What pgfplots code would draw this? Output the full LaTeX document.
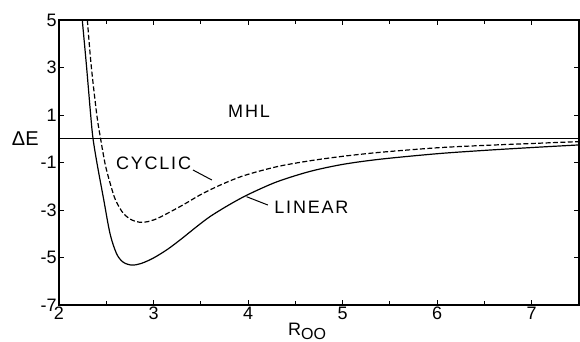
\documentclass[border=0pt]{standalone}
\usepackage{fontspec}
\setmainfont{Liberation Sans}
\newfontfamily\lbl[LetterSpace=10]{Liberation Sans}
\usepackage{pgfplots}
\pgfplotsset{compat=1.18}
\begin{document}
\begin{tikzpicture}
\begin{axis}[
  width=260pt, height=142.5pt, scale only axis,
  xmin=2, xmax=7.5, ymin=-7, ymax=5,
  xtick={2,3,4,5,6,7},
  minor xtick={2.5,3.5,4.5,5.5,6.5},
  ytick={-7,-5,-3,-1,1,3,5},
  tick align=inside,
  major tick length=2.5pt, minor tick length=1.8pt,
  axis line style={line width=0.6pt},
  every tick/.style={black, line width=0.5pt},
  /pgf/number format/assume math mode=true,
  tick label style={font=\fontsize{9}{10}\selectfont},
  xticklabel style={inner sep=1pt},
  yticklabel style={inner sep=1pt},
  clip=true,
]
\coordinate (sw) at (rel axis cs:0,0);
\coordinate (ne) at (rel axis cs:1,1);
\coordinate (dE) at (axis cs:2,0);
\coordinate (Rl) at (axis cs:4.42,-7);
% MHL reference line
\addplot[black, line width=0.6pt] coordinates {(2,0) (7.5,0)};
% LINEAR (solid)
\addplot[black, line width=0.6pt, smooth] coordinates {
 (2.246,5) (2.29,3.1) (2.335,1.0) (2.36,0) (2.405,-1.1) (2.47,-2.5)
 (2.54,-4.0) (2.61,-4.85) (2.68,-5.2) (2.77,-5.32) (2.87,-5.25)
 (3.0,-5.02) (3.15,-4.65) (3.3,-4.2) (3.45,-3.72) (3.6,-3.27)
 (3.8,-2.78) (4.0,-2.35) (4.3,-1.82) (4.65,-1.38) (5.0,-1.08)
 (5.4,-0.86) (6.0,-0.63) (6.5,-0.49) (7.0,-0.37) (7.5,-0.26)};
% CYCLIC (dashed)
\addplot[black, line width=0.6pt, smooth, dash pattern=on 2.5pt off 1.2pt] coordinates {
 (2.30,5) (2.34,3.1) (2.40,1.0) (2.44,0) (2.49,-1.1) (2.55,-2.0)
 (2.60,-2.6) (2.68,-3.14) (2.77,-3.42) (2.86,-3.52) (2.96,-3.47)
 (3.07,-3.3) (3.31,-2.79) (3.49,-2.37) (3.70,-1.96) (3.95,-1.56)
 (4.3,-1.18) (4.65,-0.93) (5.0,-0.74) (5.4,-0.57) (6.0,-0.38)
 (6.5,-0.28) (7.0,-0.2) (7.5,-0.12)};
\node[font=\lbl\fontsize{9}{10}\selectfont] at (axis cs:4.01,1.17) {MHL};
\node[font=\lbl\fontsize{9}{10}\selectfont] at (axis cs:3.0,-1.02) {CYCLIC};
\node[font=\lbl\fontsize{9}{10}\selectfont] at (axis cs:4.67,-2.88) {LINEAR};
\draw[line width=0.5pt] (axis cs:3.417,-1.316) -- (axis cs:3.617,-1.737);
\draw[line width=0.5pt] (axis cs:3.984,-2.44) -- (axis cs:4.209,-2.79);
\end{axis}
\node[anchor=east, font=\fontsize{10}{11}\selectfont, inner sep=0pt] at ([xshift=-10pt]dE) {ΔE};
\node[anchor=base west, font=\fontsize{9}{10}\selectfont, inner sep=0pt] at ([yshift=-15pt]Rl) {R\raisebox{-0.45ex}{\fontsize{8}{9}\selectfont OO}};
\pgfresetboundingbox
\path ([shift={(-29.5pt,-18pt)}]sw) rectangle ([shift={(0.5pt,10pt)}]ne);
\end{tikzpicture}
\end{document}
